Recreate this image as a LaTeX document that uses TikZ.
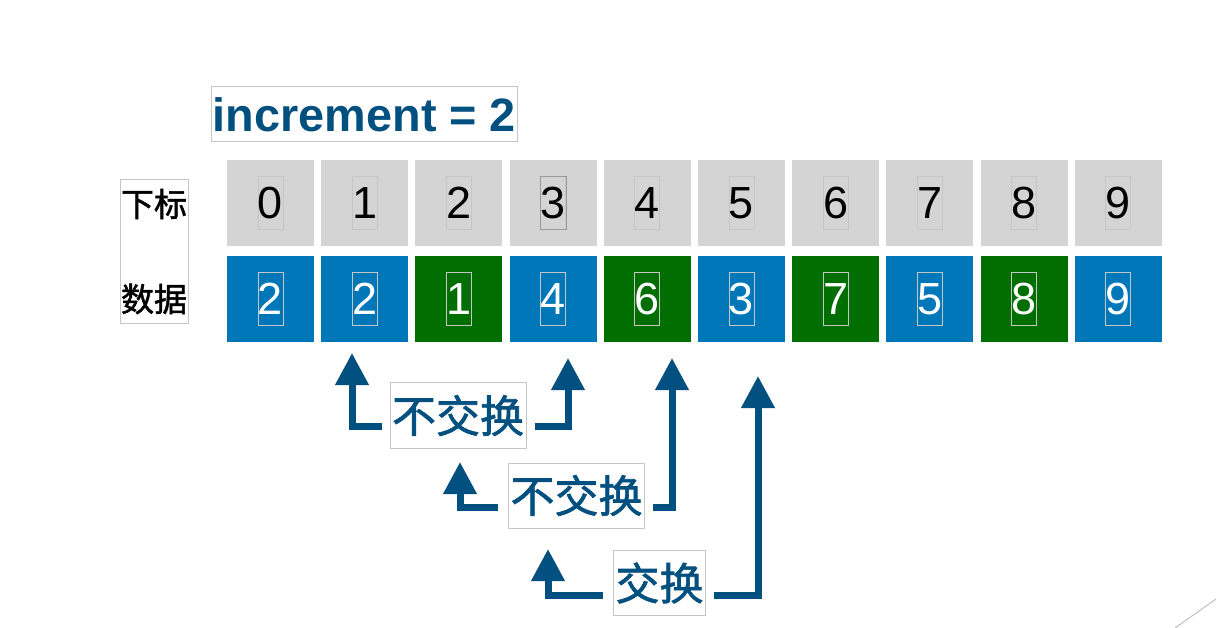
\documentclass[tikz,border=0pt]{standalone}
\usepackage{fontspec}
\setmainfont{Liberation Sans}
\newfontfamily\cjk[FakeBold=1.5]{Noto Sans CJK SC}
\usetikzlibrary{arrows.meta, positioning}
\definecolor{kblue}{RGB}{2,80,128}
\definecolor{cellb}{RGB}{0,119,185}
\definecolor{cellg}{RGB}{0,110,0}
\definecolor{cellgray}{RGB}{212,212,212}

\begin{document}
\begin{tikzpicture}[x=1pt,y=-1pt,
    cell/.style={minimum width=87pt,minimum height=86pt,inner sep=0pt},
    num/.style={draw=gray!45,line width=0.8pt,inner sep=0pt,minimum width=24pt,minimum height=53pt,
      font=\fontsize{45}{50}\selectfont},
    tag/.style={draw=gray!45,line width=1pt,fill=white,inner xsep=2pt,inner ysep=0pt,minimum height=65pt,
      text=kblue,font=\cjk\fontsize{44}{50}\selectfont},
    arr/.style={-{Triangle[length=32pt,width=32pt]},line width=7pt,draw=kblue}]
    \useasboundingbox (0,0) rectangle (1216,628);
    \node[draw=gray!45,line width=1pt,inner xsep=1pt,inner ysep=0pt,minimum height=55pt,text=kblue,
      font=\bfseries\fontsize{46.8}{50}\selectfont](inc) at (364.5,114.5){increment = 2};
    \node[draw=gray!45,line width=1pt,inner xsep=1pt,inner ysep=9pt,align=center,
      font=\cjk\fontsize{33}{95}\selectfont](lab) at (154,251.5){下标\\数据};
    \foreach \i in {0,...,9}{
      \node[cell,fill=cellgray](c\i) at (270.5+94.2*\i,203){};
      \node[num](n\i) at (c\i){\i};
    }
    \draw[gray!80,line width=0.8pt] (n3.south west) rectangle (n3.north east);
    \foreach \v/\c [count=\i from 0] in {2/cellb,2/cellb,1/cellg,4/cellb,6/cellg,3/cellb,7/cellg,5/cellb,8/cellg,9/cellb}{
      \node[cell,fill=\c](d\i) at (270.5+94.2*\i,299){};
      \node[num,draw=white!55!gray,text=white](m\i) at (d\i){\v};
    }
    \node[tag](s1) at (458,415.5){不交换};
    \node[tag](s2) at (576.5,495.5){不交换};
    \node[tag](s3) at (659.5,583){交换};
    \coordinate (t1l) at (352,353);
    \coordinate (t1r) at (568,358);
    \coordinate (t2l) at (460,462);
    \coordinate (t2r) at (672,358);
    \coordinate (t3l) at (548,549);
    \coordinate (t3r) at (758,376);
    \draw[arr] ([shift={(-8,10.5)}]s1.west) -| (t1l);
    \draw[arr] ([shift={(8,10.5)}]s1.east) -| (t1r);
    \draw[arr] ([shift={(-10,11.5)}]s2.west) -| (t2l);
    \draw[arr] ([shift={(8,11.5)}]s2.east) -| (t2r);
    \draw[arr] ([shift={(-10,12)}]s3.west) -| (t3l);
    \draw[arr] ([shift={(8,12)}]s3.east) -| (t3r);
    \draw[gray!50,line width=1pt] (1175,628) -- (1216,599);
  \end{tikzpicture}
\end{document}
